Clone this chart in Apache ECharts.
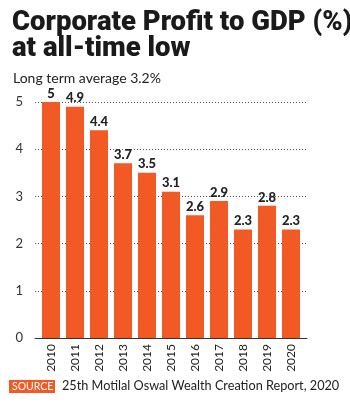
<!DOCTYPE html>
<html><head><meta charset="utf-8">
<script src="https://cdn.jsdelivr.net/npm/echarts@6/dist/echarts.min.js"></script>
<style>html,body{margin:0;padding:0;background:#fff}#c{width:350px;height:407px}</style>
</head><body><div id="c"></div>
<script>
const categories = ['2010','2011','2012','2013','2014','2015','2016','2017','2018','2019','2020'];
const profitToGdp = [5, 4.9, 4.4, 3.7, 3.5, 3.1, 2.6, 2.9, 2.3, 2.8, 2.3];
const yTicks = [0, 1, 2, 3, 4, 5];
const titleLine1 = 'Corporate Profit to GDP (%)';
const titleLine2 = 'at all-time low';
const subtitle = 'Long term average 3.2%';
const sourceTag = 'SOURCE';
const sourceText = '25th Motilal Oswal Wealth Creation Report, 2020';

const chart = echarts.init(document.getElementById('c'), null, {renderer:'canvas'});
const orange = '#f15a24';
chart.setOption({
  animation: false,
  title: [
    {text: titleLine1 + '\n' + titleLine2, left: 7, top: 5,
     textStyle: {fontFamily: 'Roboto', fontWeight: 900, fontSize: 27.5, lineHeight: 26, color: '#1a1a1a'}},
    {text: subtitle, left: 8, top: 66,
     textStyle: {fontFamily: 'Lato', fontWeight: 'normal', fontSize: 14, color: '#222'}}
  ],
  grid: [
    {left: 39, right: 47, top: 102, bottom: 69},
    {left: 35, right: 43, top: 102, bottom: 69}
  ],
  xAxis: [
    {type: 'category', data: categories, gridIndex: 0,
     axisLine: {show: false}, axisTick: {show: false},
     axisLabel: {rotate: 90, fontFamily: 'Lato', fontSize: 12, color: '#222', margin: 6}},
    {type: 'value', gridIndex: 1, min: 0, max: 1, show: true,
     axisLine: {show: true, lineStyle: {color: '#333', width: 1}}, axisTick: {show: false},
     axisLabel: {show: false}, splitLine: {show: false}}
  ],
  yAxis: [
    {type: 'value', gridIndex: 0, min: yTicks[0], max: yTicks[yTicks.length-1], interval: 1,
     axisLine: {show: false}, axisTick: {show: false}, splitLine: {show: false},
     axisLabel: {show: false}},
    {type: 'value', gridIndex: 1, min: yTicks[0], max: yTicks[yTicks.length-1], interval: 1,
     axisLine: {show: false}, axisTick: {show: false},
     splitLine: {show: true, lineStyle: {type: [1, 2], color: '#555', width: 1}},
     axisLabel: {fontFamily: 'Lato', fontSize: 13, color: '#333', margin: 12}}
  ],
  series: [{
    type: 'bar', xAxisIndex: 0, yAxisIndex: 0, data: profitToGdp, barWidth: 18,
    itemStyle: {color: orange},
    label: {show: true, position: 'top', distance: 2, fontFamily: 'Lato', fontWeight: 900, fontSize: 13, color: '#222'}
  }],
  graphic: [
    {type: 'rect', left: 9, top: 380, shape: {width: 46, height: 13}, style: {fill: orange}},
    {type: 'text', left: 12, top: 381, style: {text: sourceTag, fill: '#fff', font: '10.5px Lato'}},
    {type: 'text', left: 62, top: 379, style: {text: sourceText, fill: '#222', font: '12.7px Lato'}}
  ]
});
</script></body></html>
